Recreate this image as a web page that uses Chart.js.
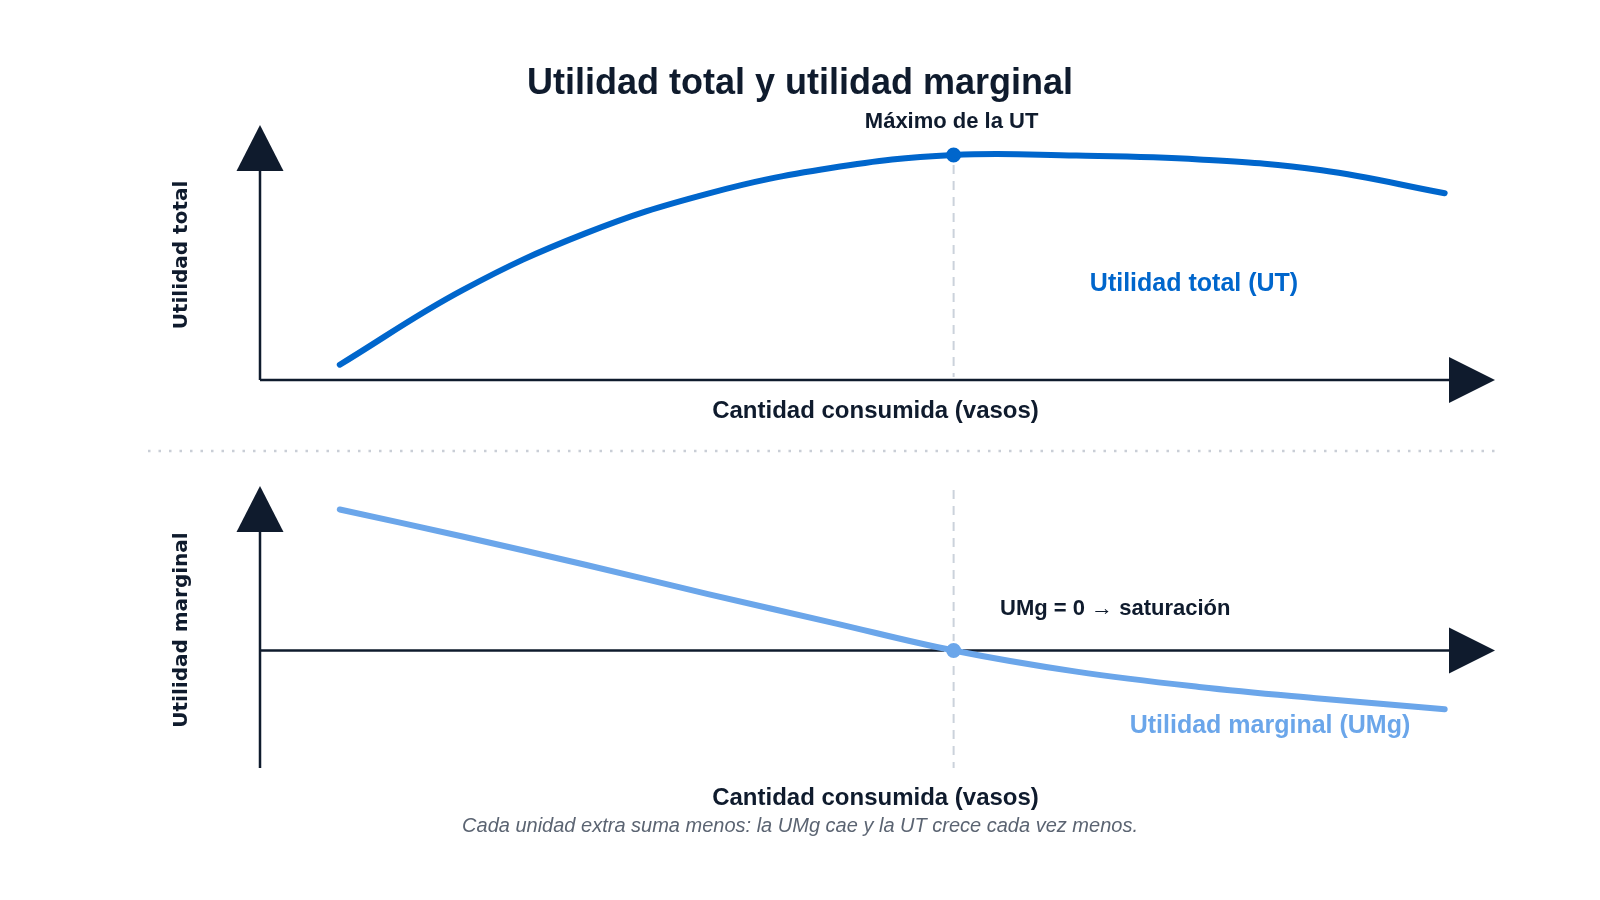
<!DOCTYPE html>
<html lang="es">
<head>
<meta charset="utf-8">
<title>Utilidad total y utilidad marginal</title>
<script src="https://cdn.jsdelivr.net/npm/chart.js@4.4.1/dist/chart.umd.min.js"></script>
<style>
html, body { margin: 0; padding: 0; background: #fff; }
#wrap { position: relative; width: 1600px; height: 900px; overflow: hidden; }
canvas { position: absolute; left: 0; }
#topChart { top: 0; }
#bottomChart { top: 455px; }
</style>
</head>
<body>
<div id="wrap">
  <canvas id="topChart" width="1600" height="455"></canvas>
  <canvas id="bottomChart" width="1600" height="445"></canvas>
</div>
<script>
// cantidad consumida (vasos)
const qty = [1, 2, 3, 4, 5, 6, 7, 8, 9, 10]
// utilidad total
const utTotal = [2.4, 14.1, 23.0, 29.25, 33.25, 35.3, 35.2, 34.6, 32.9, 29.3]
// utilidad marginal
const utMarg = [6.0, 4.85, 3.65, 2.4, 1.2, 0, -0.9, -1.55, -2.05, -2.5]

const titleText = 'Utilidad total y utilidad marginal'
const xTitle = 'Cantidad consumida (vasos)'
const caption = 'Cada unidad extra suma menos: la UMg cae y la UT crece cada vez menos.'

const INK = '#0f1b2d'
const UT_COLOR = '#0066CC'
const UMG_COLOR = '#6BA6EA'
const DASH_COLOR = '#cbd2db'
const SANS = '"Liberation Sans", Arial, sans-serif'

const peakIdx = utTotal.indexOf(Math.max(...utTotal))
const zeroIdx = utMarg.indexOf(0)

function pts(ys) {
    return qty.map((q, i) => ({ x: q, y: ys[i] }))
}

function arrowUp(ctx, x, y) {
    ctx.beginPath()
    ctx.moveTo(x, y)
    ctx.lineTo(x - 23.5, y + 46)
    ctx.lineTo(x + 23.5, y + 46)
    ctx.closePath()
    ctx.fill()
}
function arrowRight(ctx, x, y) {
    ctx.beginPath()
    ctx.moveTo(x, y)
    ctx.lineTo(x - 46, y - 23)
    ctx.lineTo(x - 46, y + 23)
    ctx.closePath()
    ctx.fill()
}

function drawAxes(chart, zeroY) {
    const { ctx, chartArea: a } = chart
    ctx.save()
    ctx.strokeStyle = INK
    ctx.fillStyle = INK
    ctx.lineWidth = 2.5
    ctx.beginPath()
    ctx.moveTo(a.left, a.bottom)
    ctx.lineTo(a.left, a.top + 40)
    ctx.moveTo(a.left, zeroY)
    ctx.lineTo(a.right - 40, zeroY)
    ctx.stroke()
    arrowUp(ctx, a.left, a.top)
    arrowRight(ctx, a.right, zeroY)
    ctx.restore()
}

function dashedV(ctx, x, y0, y1) {
    ctx.save()
    ctx.strokeStyle = DASH_COLOR
    ctx.lineWidth = 2
    ctx.setLineDash([9, 7])
    ctx.beginPath()
    ctx.moveTo(x, y0)
    ctx.lineTo(x, y1)
    ctx.stroke()
    ctx.restore()
}

function text(ctx, str, x, y, font, color, align) {
    ctx.font = font
    ctx.fillStyle = color
    ctx.textAlign = align || 'center'
    ctx.textBaseline = 'middle'
    ctx.fillText(str, x, y)
}

function rotText(ctx, str, x, y) {
    ctx.save()
    ctx.translate(x, y)
    ctx.rotate(-Math.PI / 2)
    text(ctx, str, 0, 0, 'bold 20px "DejaVu Sans", Verdana, sans-serif', INK)
    ctx.restore()
}

const topDecor = {
    id: 'topDecor',
    beforeDatasetsDraw(chart) {
        const { ctx, chartArea: a, scales } = chart
        drawAxes(chart, a.bottom)
        const px = scales.x.getPixelForValue(qty[peakIdx])
        const py = scales.y.getPixelForValue(utTotal[peakIdx])
        dashedV(ctx, px, py + 10, a.bottom - 3)
    },
    afterDraw(chart) {
        const { ctx, chartArea: a, scales } = chart
        ctx.save()
        const px = scales.x.getPixelForValue(qty[peakIdx])
        text(ctx, titleText, 800, 84, 'bold 36px ' + SANS, INK)
        text(ctx, 'Máximo de la UT', px - 2, 122, 'bold 22px ' + SANS, INK)
        text(ctx, 'Utilidad total (UT)', 1194, 284, 'bold 25px ' + SANS, UT_COLOR)
        text(ctx, xTitle, (a.left + a.right) / 2 - 2, 411, 'bold 24px ' + SANS, INK)
        rotText(ctx, 'Utilidad total', 182, 255)
        // separador punteado
        ctx.strokeStyle = '#c9ced6'
        ctx.lineWidth = 2.5
        ctx.setLineDash([2.5, 8])
        ctx.beginPath()
        ctx.moveTo(148, 451)
        ctx.lineTo(1498, 451)
        ctx.stroke()
        ctx.restore()
    }
}

const bottomDecor = {
    id: 'bottomDecor',
    beforeDatasetsDraw(chart) {
        const { ctx, chartArea: a, scales } = chart
        drawAxes(chart, scales.y.getPixelForValue(0))
        const px = scales.x.getPixelForValue(qty[zeroIdx])
        dashedV(ctx, px, 35, a.bottom)
    },
    afterDraw(chart) {
        const { ctx, chartArea: a } = chart
        ctx.save()
        text(ctx, 'UMg = 0 \u2192 saturación', 1000, 154, 'bold 22px ' + SANS, INK, 'left')
        text(ctx, 'Utilidad marginal (UMg)', 1270, 271, 'bold 25px ' + SANS, UMG_COLOR)
        text(ctx, xTitle, (a.left + a.right) / 2 - 2, 343, 'bold 24px ' + SANS, INK)
        text(ctx, caption, 800, 371, 'italic 20px ' + SANS, '#5b6472')
        rotText(ctx, 'Utilidad marginal', 182, 175)
        ctx.restore()
    }
}

function baseOptions(padding, yMin, yMax) {
    return {
        responsive: false,
        animation: false,
        events: [],
        layout: { padding: padding },
        plugins: { legend: { display: false }, tooltip: { enabled: false } },
        scales: {
            x: { type: 'linear', display: false, min: 0.35, max: 10.41 },
            y: { type: 'linear', display: false, min: yMin, max: yMax }
        }
    }
}

new Chart(document.getElementById('topChart').getContext('2d'), {
    type: 'line',
    data: {
        datasets: [{
            label: 'Utilidad total (UT)',
            data: pts(utTotal),
            borderColor: UT_COLOR,
            borderWidth: 6,
            borderCapStyle: 'round',
            pointRadius: 0,
            tension: 0.4,
            fill: false,
            clip: false
        }, {
            label: 'Máximo',
            data: [{ x: qty[peakIdx], y: utTotal[peakIdx] }],
            showLine: false,
            pointRadius: 8.5,
            pointBackgroundColor: UT_COLOR,
            pointBorderColor: '#ffffff',
            pointBorderWidth: 2,
            clip: false
        }]
    },
    options: baseOptions({ left: 260, right: 105, top: 125, bottom: 75 }, 0, 40),
    plugins: [topDecor]
})

new Chart(document.getElementById('bottomChart').getContext('2d'), {
    type: 'line',
    data: {
        datasets: [{
            label: 'Utilidad marginal (UMg)',
            data: pts(utMarg),
            borderColor: UMG_COLOR,
            borderWidth: 6,
            borderCapStyle: 'round',
            pointRadius: 0,
            tension: 0.4,
            fill: false,
            clip: false
        }, {
            label: 'UMg = 0',
            data: [{ x: qty[zeroIdx], y: utMarg[zeroIdx] }],
            showLine: false,
            pointRadius: 8.5,
            pointBackgroundColor: UMG_COLOR,
            pointBorderColor: '#ffffff',
            pointBorderWidth: 2,
            clip: false
        }]
    },
    options: baseOptions({ left: 260, right: 105, top: 31, bottom: 132 }, -5, 7),
    plugins: [bottomDecor]
})
</script>
</body>
</html>
